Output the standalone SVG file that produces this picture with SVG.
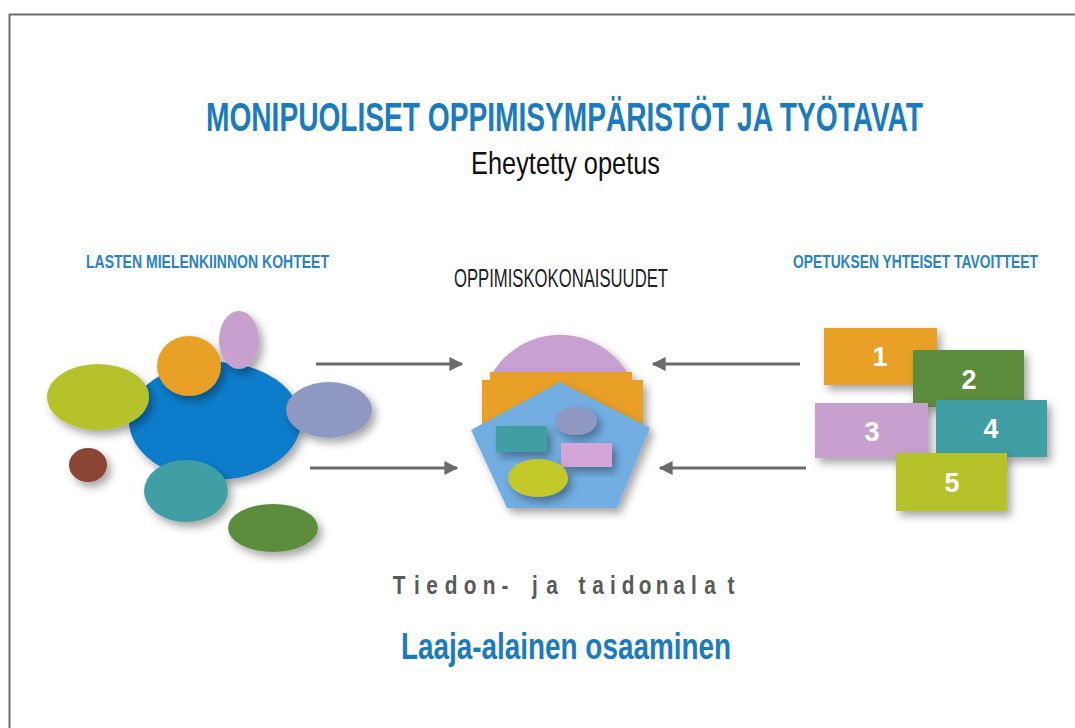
<svg xmlns="http://www.w3.org/2000/svg" width="1075" height="728" viewBox="0 0 1075 728">
<defs>
<filter id="sh" x="-30%" y="-30%" width="170%" height="170%">
<feDropShadow dx="4" dy="5" stdDeviation="4" flood-color="#000" flood-opacity="0.35"/>
</filter>
<marker id="ah" viewBox="0 0 10 10" refX="9" refY="5" markerWidth="14" markerHeight="14" markerUnits="userSpaceOnUse" orient="auto">
<path d="M0,0 L10,5 L0,10 Z" fill="#6b6b6b"/>
</marker>
</defs>
<style>
.t{font-family:"Liberation Sans",Arial,sans-serif}
.blue{fill:#1b7bc1}
.lbl{font-size:19px;font-weight:bold;fill:#2a83c2}
.num{font-family:"Liberation Sans",Arial,sans-serif;font-weight:bold;font-size:27px;fill:#fff;text-anchor:middle}
.conn line{stroke:#6b6b6b;stroke-width:3}
.s{filter:url(#sh)}
</style>
<rect width="1075" height="728" fill="#fff"/>
<path d="M9.5,728 V14.5 H1075" fill="none" stroke="#6e6e6e" stroke-width="2"/>

<g id="title">
<text class="t blue" x="206" y="131" font-size="40" font-weight="bold" textLength="717" lengthAdjust="spacingAndGlyphs">MONIPUOLISET OPPIMISYMPÄRISTÖT JA TYÖTAVAT</text>
<text class="t" x="471" y="174" font-size="32" fill="#111" textLength="189" lengthAdjust="spacingAndGlyphs">Eheytetty opetus</text>
</g>

<g id="label-left"><text class="t lbl" x="86" y="268" textLength="243" lengthAdjust="spacingAndGlyphs">LASTEN MIELENKIINNON KOHTEET</text></g>
<g id="label-center"><text class="t" x="454" y="287" font-size="25" fill="#222" textLength="214" lengthAdjust="spacingAndGlyphs">OPPIMISKOKONAISUUDET</text></g>
<g id="label-right"><text class="t lbl" x="793" y="268" textLength="245" lengthAdjust="spacingAndGlyphs">OPETUKSEN YHTEISET TAVOITTEET</text></g>

<g id="interests">
<ellipse class="s" cx="215" cy="421" rx="86" ry="59" fill="#0a7dcb"/>
<ellipse class="s" cx="98" cy="397" rx="51" ry="33" fill="#b5c22a"/>
<ellipse class="s" cx="189" cy="366" rx="32" ry="30" fill="#e8a128"/>
<ellipse class="s" cx="239" cy="340" rx="20" ry="29" fill="#c8a0d0"/>
<ellipse class="s" cx="329" cy="410" rx="43" ry="28" fill="#8e98c0"/>
<ellipse class="s" cx="88" cy="465" rx="19" ry="17" fill="#8a4535"/>
<ellipse class="s" cx="186" cy="491" rx="42" ry="31" fill="#3f9ea5"/>
<ellipse class="s" cx="273" cy="528" rx="45" ry="24" fill="#5b8d3e"/>
</g>

<g id="learning-units">
<path class="s" d="M493,372 A79,79 0 0 1 627,372 Z" fill="#c9a0d2"/>
<path class="s" d="M490,372 H632 V380 H643 V428 H482 V380 H490 Z" fill="#e8a128"/>
<path class="s" d="M560,382 L650,428 L617,508 L507,508 L471,430 Z" fill="#72aee2"/>
<ellipse class="s" cx="576" cy="421" rx="21" ry="14" fill="#8e98c0"/>
<rect class="s" x="496" y="426" width="51" height="26" fill="#3f9ea5"/>
<rect class="s" x="561" y="443" width="51" height="24" fill="#d4a6d8"/>
<ellipse class="s" cx="538" cy="478" rx="30" ry="19" fill="#c4c92a"/>
</g>

<g id="goals">
<g id="goal-1"><rect class="s" x="824" y="328" width="113" height="57" fill="#e8a128"/><text class="num" x="880" y="366">1</text></g>
<g id="goal-2"><rect class="s" x="913" y="350" width="111" height="57" fill="#5b8d3e"/><text class="num" x="969" y="389">2</text></g>
<g id="goal-3"><rect class="s" x="815" y="403" width="113" height="55" fill="#c8a0d0"/><text class="num" x="872" y="441">3</text></g>
<g id="goal-4"><rect class="s" x="936" y="400" width="111" height="57" fill="#3f9ea5"/><text class="num" x="991" y="438">4</text></g>
<g id="goal-5"><rect class="s" x="896" y="453" width="111" height="58" fill="#b5c22a"/><text class="num" x="952" y="492">5</text></g>
</g>

<g id="connectors" class="conn">
<line x1="316" y1="364" x2="462" y2="364" marker-end="url(#ah)"/>
<line x1="310" y1="468" x2="457" y2="468" marker-end="url(#ah)"/>
<line x1="800" y1="364" x2="653" y2="364" marker-end="url(#ah)"/>
<line x1="806" y1="468" x2="660" y2="468" marker-end="url(#ah)"/>
</g>

<g id="footer">
<g transform="scale(0.8,1)">
<text class="t" y="594" font-size="26" font-weight="bold" fill="#5a5a5a" text-anchor="middle" x="498.75 521.25 540 563.75 587.5 611.25 631.25 668.75 690 727.5 747.5 766.25 785 806.25 827.5 848.75 867.5 887.5 913.75">Tiedon-jataidonalat</text>
</g>
<text class="t blue" x="401" y="659" font-size="36" font-weight="bold" textLength="330" lengthAdjust="spacingAndGlyphs">Laaja-alainen osaaminen</text>
</g>
</svg>
